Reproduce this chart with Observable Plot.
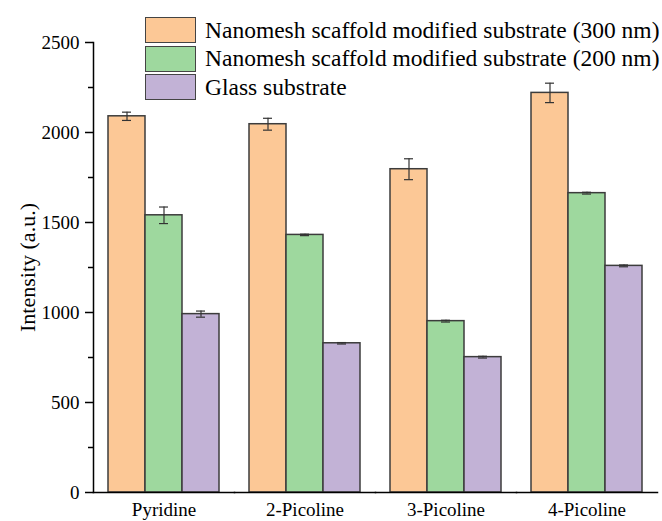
<!DOCTYPE html>
<html>
<head>
<meta charset="utf-8">
<script src="https://cdn.jsdelivr.net/npm/d3@7"></script>
<script src="https://cdn.jsdelivr.net/npm/@observablehq/plot@0.6"></script>
<style>
  html, body { margin: 0; padding: 0; background: #fff; }
  #wrap { position: relative; width: 662px; height: 521px; font-family: "Liberation Serif", "Times New Roman", serif; }
  #legend { position: absolute; left: 145px; top: 16px; }
  .row { display: flex; align-items: center; height: 28.5px; }
  .sw { width: 49px; height: 24px; border: 1.5px solid #444; margin-right: 9px; box-sizing: content-box; }
  .lab { font-size: 23.5px; color: #000; white-space: nowrap; line-height: 1; font-family: "Liberation Serif", serif; }
</style>
</head>
<body>
<div id="wrap"><div id="legend"></div></div>
<script>
const categories = ["Pyridine", "2-Picoline", "3-Picoline", "4-Picoline"];
const series = [
  "Nanomesh scaffold modified substrate (300 nm)",
  "Nanomesh scaffold modified substrate (200 nm)",
  "Glass substrate"
];
const values300 = [2090, 2046, 1796, 2220];
const err300 = [23, 33, 58, 54];
const values200 = [1540, 1431, 952, 1663];
const err200 = [46, 4, 5, 5];
const valuesGlass = [991, 829, 752, 1259];
const errGlass = [17, 4, 5, 5];
const colors = ["#FCC896", "#9ED89E", "#C2B2D6"];
const yTicks = [0, 500, 1000, 1500, 2000, 2500];
const yMinorTicks = [250, 750, 1250, 1750, 2250];

const allValues = [values300, values200, valuesGlass];
const allErrs = [err300, err200, errGlass];
const data = [];
categories.forEach((c, i) => {
  series.forEach((s, j) => {
    data.push({category: c, series: s, value: allValues[j][i], err: allErrs[j][i]});
  });
});

const serif = "'Liberation Serif', 'Times New Roman', serif";

const plot = Plot.plot({
  width: 662,
  height: 521,
  marginLeft: 93,
  marginRight: 5,
  marginTop: 42,
  marginBottom: 29,
  style: {fontFamily: serif, color: "#000", background: "transparent"},
  fx: {domain: categories, padding: 0, label: null},
  x: {domain: series, padding: 0, insetLeft: 14, insetRight: 14, axis: null},
  y: {domain: [0, 2500], axis: null},
  color: {domain: series, range: colors},
  marks: [
    Plot.barY(data, {fx: "category", x: "series", y: "value", fill: "series", stroke: "#3c3c3c", strokeWidth: 1.5}),
    Plot.ruleX(data, {fx: "category", x: "series", y1: d => d.value - d.err, y2: d => d.value + d.err, stroke: "#333", strokeWidth: 1.2}),
    Plot.tickY(data, {fx: "category", x: "series", y: d => d.value - d.err, stroke: "#333", strokeWidth: 1.2, insetLeft: 14, insetRight: 14}),
    Plot.tickY(data, {fx: "category", x: "series", y: d => d.value + d.err, stroke: "#333", strokeWidth: 1.2, insetLeft: 14, insetRight: 14}),
    Plot.frame({anchor: "left", facetAnchor: "left", stroke: "#000", strokeWidth: 1.5}),
    Plot.frame({anchor: "bottom", stroke: "#000", strokeWidth: 1.5}),
    Plot.axisY({ticks: yTicks, tickSize: 8, tickPadding: 6, fontSize: 19, fontFamily: serif, label: null, strokeWidth: 1.5, tickFormat: d => String(d)}),
    Plot.axisY({ticks: yMinorTicks, tickSize: 5, text: null, label: null, strokeWidth: 1.5}),
    Plot.axisY({ticks: [], label: "Intensity (a.u.)", labelAnchor: "center", labelArrow: "none", labelOffset: 74, fontSize: 22, fontFamily: serif}),
    Plot.axisFx({anchor: "bottom", tickSize: 0, tickPadding: 10, fontSize: 19, fontFamily: serif, label: null})
  ]
});
document.getElementById("wrap").prepend(plot);

const legend = document.getElementById("legend");
series.forEach((s, j) => {
  const row = document.createElement("div");
  row.className = "row";
  const sw = document.createElement("div");
  sw.className = "sw";
  sw.style.background = colors[j];
  const lab = document.createElement("div");
  lab.className = "lab";
  lab.textContent = s;
  row.appendChild(sw);
  row.appendChild(lab);
  legend.appendChild(row);
});
</script>
</body>
</html>
